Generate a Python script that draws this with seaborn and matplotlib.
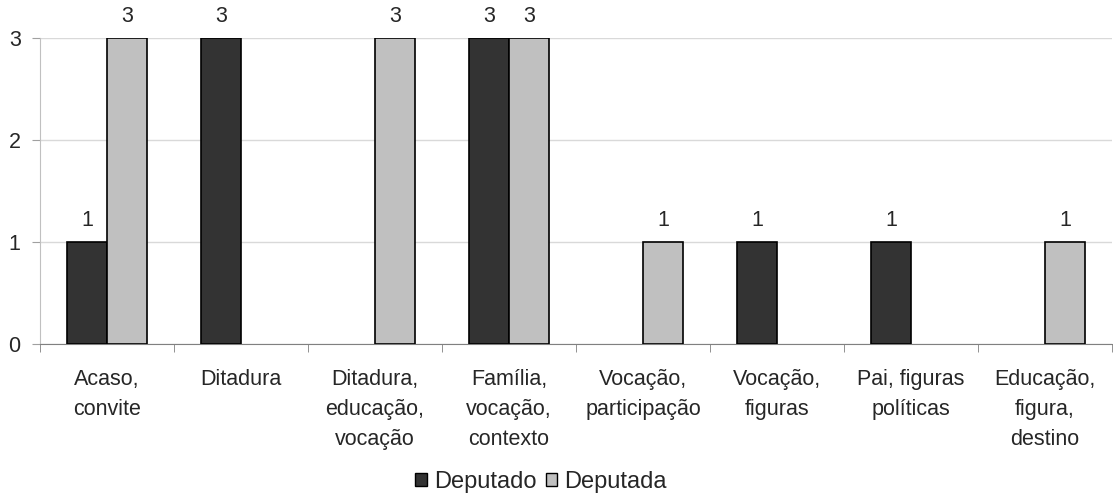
import numpy as np
import pandas as pd
import seaborn as sns
import matplotlib.pyplot as plt
from matplotlib.ticker import FixedLocator

# Chart data
categories = ["Acaso,\nconvite", "Ditadura", "Ditadura,\neducação,\nvocação",
              "Família,\nvocação,\ncontexto", "Vocação,\nparticipação", "Vocação,\nfiguras",
              "Pai, figuras\npolíticas", "Educação,\nfigura,\ndestino"]
deputado = [1, 3, 0, 3, 0, 1, 1, 0]
deputada = [3, 0, 3, 3, 1, 0, 0, 1]
series = ["Deputado", "Deputada"]
colors = ["#333333", "#C0C0C0"]

df = pd.DataFrame({
    "categoria": categories * 2,
    "valor": deputado + deputada,
    "serie": [series[0]] * len(categories) + [series[1]] * len(categories),
})
df = df[df["valor"] > 0]  # empty bars are not drawn

sns.set_style("white")
plt.rcParams["font.family"] = ["Liberation Sans", "DejaVu Sans"]
fs = 15.5

fig = plt.figure(figsize=(11.13, 4.97), dpi=100)
ax = fig.add_axes([0.036, 0.308, 0.963, 0.616])

sns.barplot(data=df, x="categoria", y="valor", hue="serie", order=categories,
            hue_order=series, palette=colors, width=0.6, edgecolor="black",
            linewidth=1.2, ax=ax, zorder=3)

for c in ax.containers:
    ax.bar_label(c, fmt="%d", padding=8, fontsize=fs)

ax.set_xlim(-0.5, len(categories) - 0.5)
ax.set_ylim(0, 3)
ax.set_yticks([0, 1, 2, 3])
ax.yaxis.grid(True, color="#D9D9D9", linewidth=1, zorder=0)
ax.tick_params(axis="y", labelsize=fs, length=6, color="#A0A0A0", left=True, pad=8)
ax.tick_params(axis="x", which="major", length=0, labelsize=fs, pad=18)
ax.xaxis.set_minor_locator(FixedLocator(np.arange(-0.5, len(categories), 1)))
ax.tick_params(axis="x", which="minor", length=6, color="#808080", bottom=True)
for lab in ax.get_xticklabels():
    lab.set_linespacing(1.55)
ax.set_xlabel("")
ax.set_ylabel("")
for s in ["top", "right"]:
    ax.spines[s].set_visible(False)
ax.spines["left"].set_color("#C0C0C0")
ax.spines["bottom"].set_color("#808080")

ax.legend_.remove()
handles = [plt.Rectangle((0, 0), 1, 1, facecolor=col, edgecolor="black", linewidth=1) for col in colors]
fig.legend(handles, series, loc="center", bbox_to_anchor=(0.486, 0.03), ncol=2, frameon=False,
           fontsize=17, handlelength=0.5, handleheight=0.5, handletextpad=0.3, columnspacing=0.4)

fig.savefig("out.png", dpi=100)
